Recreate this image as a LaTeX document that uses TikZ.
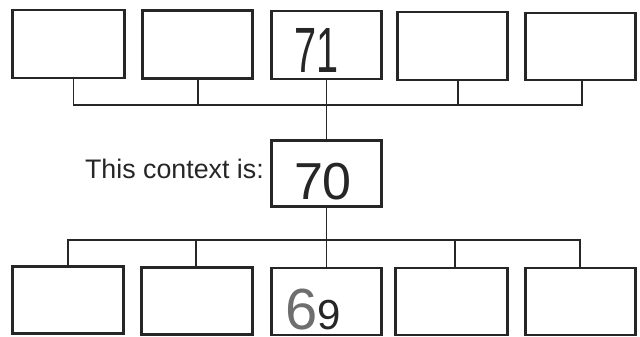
\documentclass[tikz,border=0pt]{standalone}
\usepackage{fontspec}
\setmainfont{Liberation Sans}
\usetikzlibrary{calc}
\definecolor{ink}{HTML}{262626}
\definecolor{pencil}{HTML}{6E6E6E}
\begin{document}
\begin{tikzpicture}[x=1pt,y=-1pt,
  box/.style={draw=ink,line width=2.2pt,inner sep=0pt,minimum height=67pt},
  link/.style={draw=ink,line width=1.7pt},
  hand/.style={text=ink,inner sep=0pt}]
\useasboundingbox[fill=white] (0,0) rectangle (640,337);
% top row
\node[box,minimum width=112pt,minimum height=68pt] (t1) at (68.5,44) {};
\node[box,minimum width=110pt,minimum height=68pt] (t2) at (197.5,44.5) {};
\node[box,minimum width=110pt,minimum height=68pt] (t3) at (326.5,45) {};
\node[box,minimum width=110pt,minimum height=68pt] (t4) at (452.5,46) {};
\node[box,minimum width=110pt,minimum height=67pt] (t5) at (580.5,46.5) {};
% centre
\node[box,minimum width=110pt,minimum height=66pt] (c) at (326.5,173.5) {};
% bottom row
\node[box,minimum width=111pt,minimum height=67pt] (b1) at (68,300) {};
\node[box,minimum width=111pt,minimum height=67pt] (b2) at (197,301) {};
\node[box,minimum width=110pt,minimum height=67pt] (b3) at (326.5,301.5) {};
\node[box,minimum width=112pt,minimum height=67pt] (b4) at (451.5,301.5) {};
\node[box,minimum width=110pt,minimum height=67pt] (b5) at (580.5,301.5) {};
% label
\node[anchor=base east,inner sep=0pt,text=ink,font=\fontsize{26.8}{27}\selectfont] (lab) at (264,178) {This context is:};
% handwritten numbers
\node[hand,xscale=0.62,transform shape,font=\fontsize{64}{64}\selectfont,anchor=base] (n71) at (317,73) {71};
\node[hand,font=\fontsize{52}{52}\selectfont,anchor=base] (n70) at (323,199) {70};
\node[hand,anchor=base west] (n69) at (285,329) {{\color{pencil}\fontsize{58}{58}\selectfont 6}{\fontsize{42}{42}\selectfont 9}};
% connectors top
\coordinate (th) at (327,105);
\draw[link] ([xshift=5pt]t1.south) |- (th);
\draw[link] ([xshift=0.5pt]t2.south) |- (th);
\draw[link] ([xshift=5.5pt]t4.south) |- (th);
\draw[link] ([xshift=1.5pt]t5.south) |- (th);
\draw[link] (t3.south) -- (c.north);
% connectors bottom
\coordinate (bh) at (327,240);
\draw[link] (c.south) -- (b3.north);
\draw[link] (b1.north) |- (bh);
\draw[link] ([xshift=-1pt]b2.north) |- (bh);
\draw[link] ([xshift=3.5pt]b4.north) |- (bh);
\draw[link] ([xshift=-0.5pt]b5.north) |- (bh);
\end{tikzpicture}
\end{document}
